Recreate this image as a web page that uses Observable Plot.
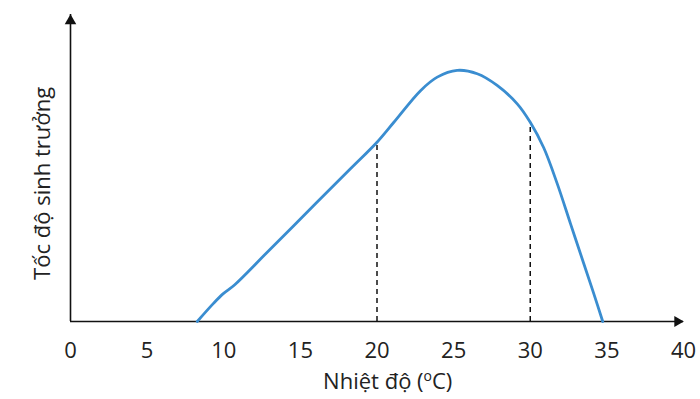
<!DOCTYPE html>
<html><head><meta charset="utf-8">
<script src="https://cdn.jsdelivr.net/npm/d3@7"></script>
<script src="https://cdn.jsdelivr.net/npm/@observablehq/plot@0.6"></script>
<style>body{margin:0;background:#fff} #chart svg{font-family:"Open Sans",sans-serif}</style>
</head><body><div id="chart"></div>
<script>
const temps = [8.27, 9.33, 9.95, 10.7, 13.0, 16.0, 18.3, 20.0, 21.1, 22.84, 23.93, 25.23, 26.54, 27.84, 29.15, 30.0, 30.88, 31.76, 32.63, 33.49, 34.15, 34.73];
const rates = [0, 5.9, 9.0, 11.9, 23.4, 38.4, 49.9, 58.4, 64.9, 75.2, 79.6, 81.8, 80.7, 76.9, 70.9, 64.9, 56.6, 44.9, 31.8, 18.9, 9.0, 0];
const markTemps = [20, 30];
const markRates = [58.4, 64.9];
const xTicks = [0, 5, 10, 15, 20, 25, 30, 35, 40];
const xLabel = "Nhiệt độ (oC)";
const yLabel = "Tốc độ sinh trưởng";
const xMax = 40, yMax = 100;

const curve = temps.map((t, i) => ({t, r: rates[i]}));
const marks = markTemps.map((t, i) => ({t, r: markRates[i]}));

const chart = Plot.plot({
  width: 700, height: 399,
  marginLeft: 70, marginRight: 17, marginTop: 14, marginBottom: 78,
  x: {domain: [0, xMax], axis: null},
  y: {domain: [0, yMax], axis: null},
  marks: [
    Plot.ruleY([0], {x1: 0, x2: xMax, stroke: "#111", strokeWidth: 1.6}),
    Plot.ruleX([0], {y1: 0, y2: yMax, stroke: "#111", strokeWidth: 1.6}),
    Plot.dot([{x: xMax, y: 0}], {x: "x", y: "y", symbol: "triangle", r: 4.1, rotate: 90, fill: "#111", stroke: null, dx: -6}),
    Plot.dot([{x: 0, y: yMax}], {x: "x", y: "y", symbol: "triangle", r: 4.3, fill: "#111", stroke: null, dy: 6.5}),
    Plot.ruleX(marks, {x: "t", y1: 0, y2: "r", stroke: "#111", strokeWidth: 1.5, strokeDasharray: "5,4"}),
    Plot.line(curve, {x: "t", y: "r", curve: "catmull-rom", stroke: "#3a8dd0", strokeWidth: 2.8}),
    Plot.text(xTicks, {x: d => d, y: 0, text: d => String(d), dy: 29, fontSize: 22, fill: "#222"}),
    Plot.text([xLabel], {x: 20.7, y: 0, text: d => d, dy: 60, fontSize: 22, fill: "#222", className: "xlab"}),
    Plot.text([yLabel], {x: 0, y: 45, text: d => d, dx: -28, rotate: -90, fontSize: 22, fill: "#222"})
  ]
});
document.getElementById("chart").appendChild(chart);
// superscript "o" in the x label
d3.select(chart).selectAll(".xlab text").each(function() {
  const el = d3.select(this);
  el.text(null);
  el.append("tspan").text("Nhiệt độ (");
  el.append("tspan").attr("font-size", 14).attr("dy", "-0.55em").text("o");
  el.append("tspan").attr("dy", "0.36em").text("C)");
});
</script></body></html>
